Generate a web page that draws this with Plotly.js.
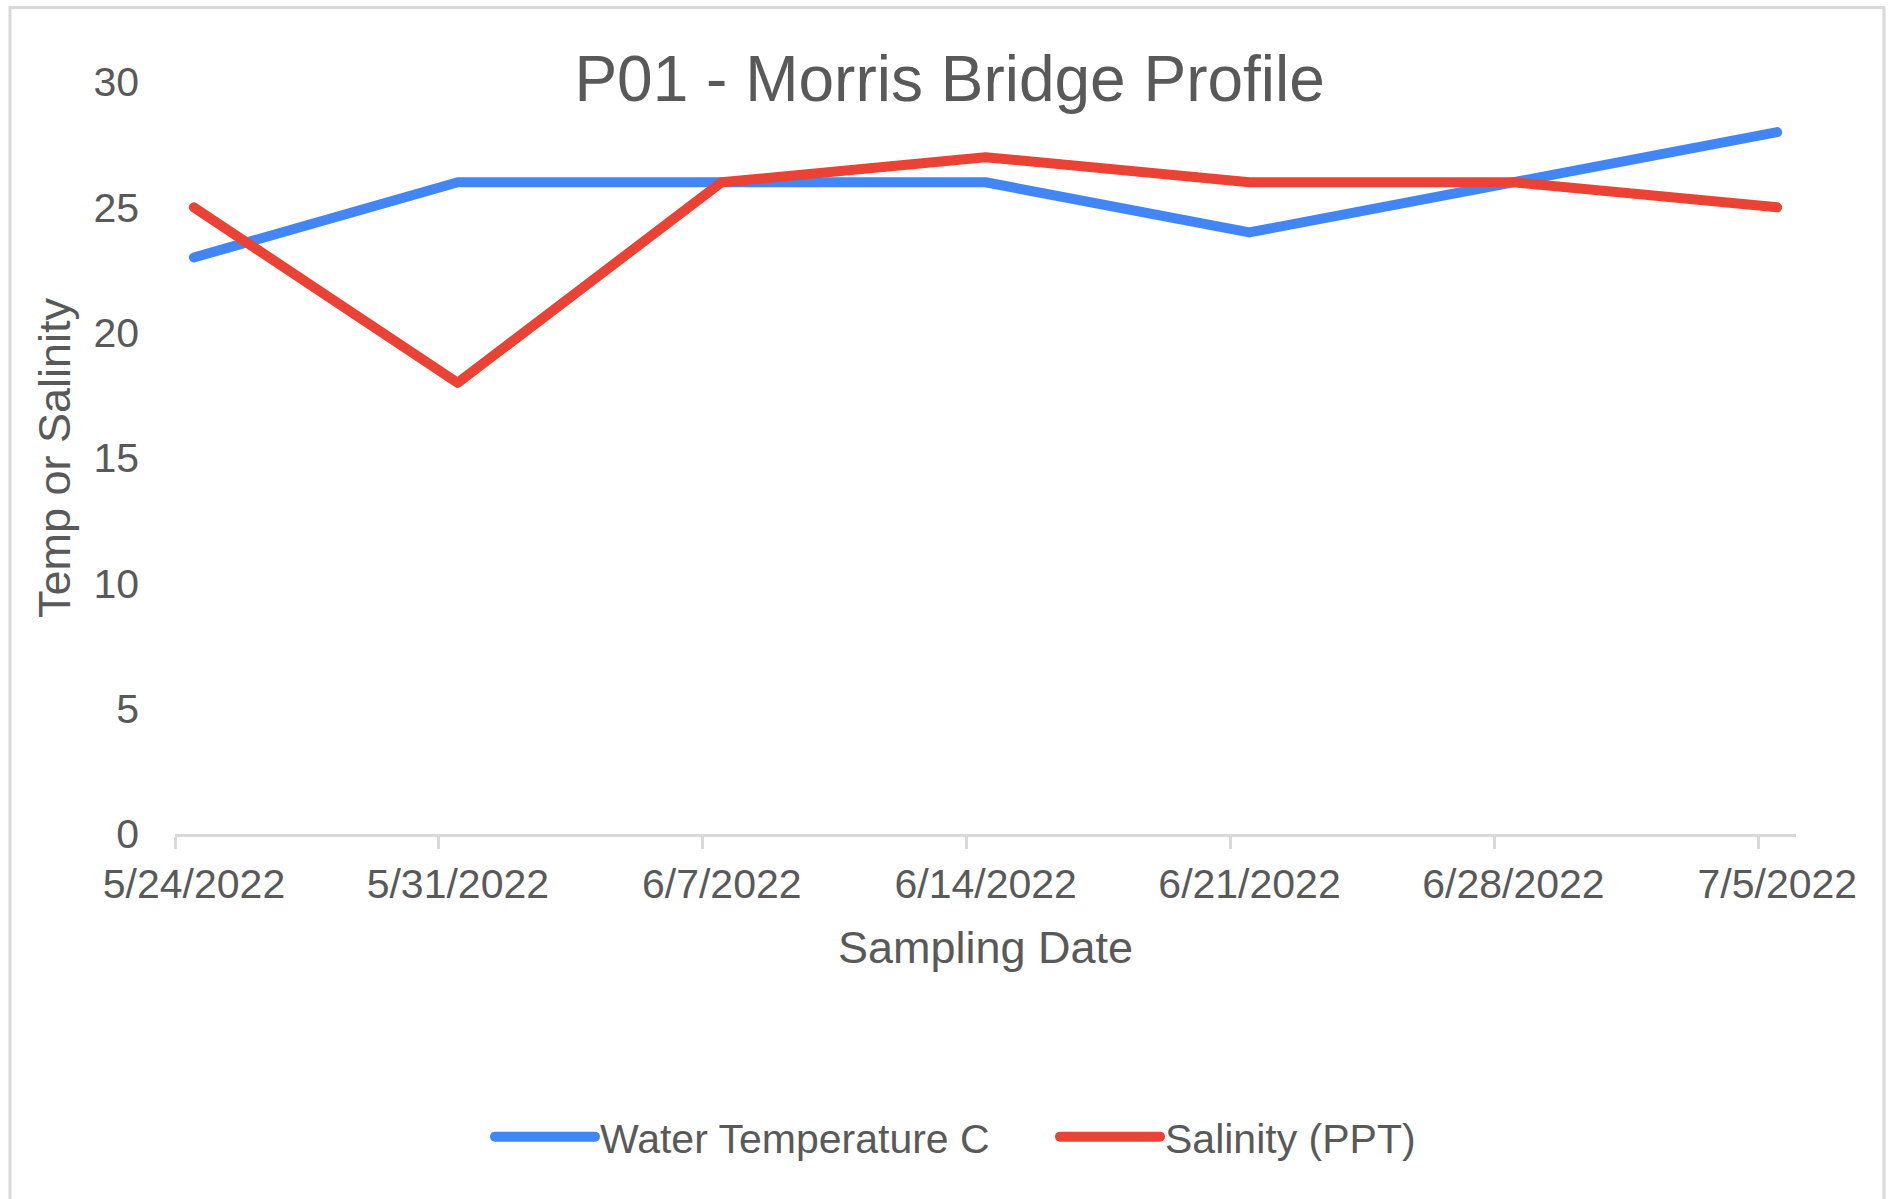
<!DOCTYPE html>
<html>
<head>
<meta charset="utf-8">
<script src="https://cdn.plot.ly/plotly-3.0.1.min.js"></script>
<style>
  html, body { margin: 0; padding: 0; background: #ffffff; }
  #chart { width: 1888px; height: 1199px; }
  #chart .scatterlayer .js-line,
  #chart .legendlines path { stroke-linecap: round; stroke-linejoin: round; }
</style>
</head>
<body>
<div id="chart"></div>
<script>
// ---- data ----
const sampleDates = ['2022-05-24', '2022-05-31', '2022-06-07', '2022-06-14', '2022-06-21', '2022-06-28', '2022-07-05'];
const dateLabels = ['5/24/2022', '5/31/2022', '6/7/2022', '6/14/2022', '6/21/2022', '6/28/2022', '7/5/2022'];
const waterTemp = [23, 26, 26, 26, 24, 26, 28];
const salinity = [25, 18, 26, 27, 26, 26, 25];
const seriesNames = ['Water Temperature C', 'Salinity (PPT)'];
const chartTitle = 'P01 - Morris Bridge Profile';
const xTitle = 'Sampling Date';
const yTitle = 'Temp or Salinity';

// ---- layout helpers ----
const W = 1888, H = 1199;
const M = { l: 175, r: 92, t: 82, b: 365 };
const DAY = 24 * 3600 * 1000;
const HALF_DAY = DAY / 2;
const toMs = d => new Date(d + 'T00:00:00Z').getTime();
const fmt = ms => new Date(ms).toISOString().replace('T', ' ').slice(0, 19);
const firstMs = toMs(sampleDates[0]);
const lastMs = toMs(sampleDates[sampleDates.length - 1]);
const xStart = fmt(firstMs - HALF_DAY);
const xEnd = fmt(lastMs + HALF_DAY);
const tickPos = sampleDates.map(d => fmt(toMs(d) - HALF_DAY));
const plotW = W - M.l - M.r;
const plotH = H - M.t - M.b;
const dayPx = plotW / ((lastMs - firstMs + DAY) / DAY);

const textColor = '#595959';
const font = 'Arial, "Liberation Sans", sans-serif';

const traces = [
  { x: sampleDates, y: waterTemp, name: seriesNames[0], type: 'scatter', mode: 'lines',
    line: { color: '#4285F4', width: 10 } },
  { x: sampleDates, y: salinity, name: seriesNames[1], type: 'scatter', mode: 'lines',
    line: { color: '#EA4335', width: 10 } }
];

// frame around the whole chart (paper coords relative to plot area)
const px2x = px => (px - M.l) / plotW;
const py2y = py => (H - M.b - py) / plotH;

const layout = {
  width: W, height: H,
  margin: M,
  paper_bgcolor: '#ffffff',
  plot_bgcolor: '#ffffff',
  font: { family: font, color: textColor, size: 41 },
  title: {
    text: chartTitle,
    font: { family: font, size: 64, color: textColor },
    x: 0.503, xanchor: 'center', xref: 'container',
    y: 1 - 78.5 / H, yanchor: 'middle', yref: 'container'
  },
  xaxis: {
    type: 'date',
    range: [xStart, xEnd],
    tickmode: 'array',
    tickvals: tickPos,
    ticktext: dateLabels,
    ticklabelshift: Math.round(dayPx / 2),
    ticks: 'outside', ticklen: 12, tickwidth: 3, tickcolor: '#d9d9d9',
    showline: true, linecolor: '#d9d9d9', linewidth: 3,
    showgrid: false, zeroline: false,
    tickfont: { family: font, size: 41, color: textColor },
    title: { text: xTitle, font: { family: font, size: 45, color: textColor }, standoff: 26 },
    automargin: false
  },
  yaxis: {
    range: [0, 30],
    tickmode: 'linear', tick0: 0, dtick: 5,
    ticks: '', showline: false, showgrid: false, zeroline: false,
    ticklabelstandoff: 35,
    tickfont: { family: font, size: 41, color: textColor },
    title: { text: yTitle, font: { family: font, size: 45, color: textColor }, standoff: 8 },
    automargin: false
  },
  showlegend: true,
  legend: {
    orientation: 'h',
    xref: 'container', yref: 'container',
    x: 490 / W, xanchor: 'left',
    y: 1 - 1137 / H, yanchor: 'middle',
    font: { family: font, size: 41, color: textColor },
    itemwidth: 100,
    entrywidth: 450, entrywidthmode: 'pixels',
    bgcolor: 'rgba(0,0,0,0)'
  },
  shapes: [
    { type: 'rect', xref: 'paper', yref: 'paper',
      x0: px2x(10), x1: px2x(1884), y0: py2y(1205), y1: py2y(7.5),
      line: { color: '#d9d9d9', width: 3 }, fillcolor: 'rgba(0,0,0,0)', layer: 'below' }
  ]
};

Plotly.newPlot('chart', traces, layout, { displayModeBar: false, staticPlot: true });
</script>
</body>
</html>
